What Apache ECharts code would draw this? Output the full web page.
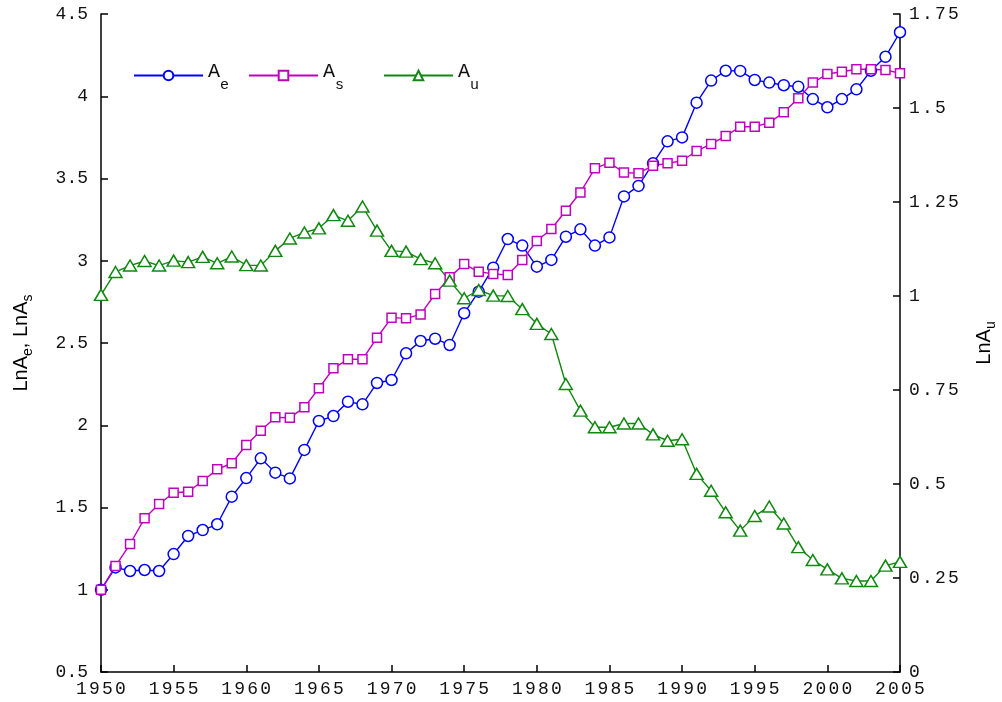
<!DOCTYPE html>
<html>
<head>
<meta charset="utf-8">
<script src="https://cdn.jsdelivr.net/npm/echarts@6/dist/echarts.min.js"></script>
<style>
html,body{margin:0;padding:0;background:#fff;}
#chart{width:1002px;height:702px;}
</style>
</head>
<body>
<div id="chart"></div>
<script>
const years = [1950,1951,1952,1953,1954,1955,1956,1957,1958,1959,1960,1961,1962,1963,1964,1965,1966,1967,1968,1969,1970,1971,1972,1973,1974,1975,1976,1977,1978,1979,1980,1981,1982,1983,1984,1985,1986,1987,1988,1989,1990,1991,1992,1993,1994,1995,1996,1997,1998,1999,2000,2001,2002,2003,2004,2005];

const lnAe = [1.00,1.136,1.114,1.120,1.114,1.217,1.327,1.363,1.398,1.566,1.679,1.799,1.712,1.677,1.850,2.026,2.056,2.143,2.127,2.257,2.275,2.437,2.512,2.526,2.488,2.681,2.812,2.958,3.132,3.092,2.964,3.005,3.146,3.191,3.092,3.142,3.391,3.455,3.592,3.726,3.750,3.961,4.095,4.155,4.154,4.099,4.083,4.067,4.058,3.983,3.933,3.983,4.042,4.155,4.240,4.389];

const lnAs = [1.00,1.144,1.278,1.434,1.521,1.590,1.596,1.661,1.732,1.769,1.880,1.967,2.048,2.046,2.109,2.225,2.346,2.401,2.401,2.532,2.654,2.650,2.674,2.798,2.899,2.980,2.933,2.920,2.913,3.005,3.120,3.193,3.304,3.415,3.562,3.596,3.536,3.532,3.578,3.592,3.608,3.667,3.710,3.758,3.815,3.815,3.839,3.902,3.988,4.083,4.135,4.149,4.164,4.164,4.160,4.140];

const lnAu = [1.003,1.064,1.081,1.093,1.081,1.094,1.090,1.104,1.087,1.105,1.082,1.081,1.120,1.153,1.169,1.180,1.215,1.200,1.238,1.174,1.120,1.118,1.098,1.087,1.041,0.994,1.016,1.001,1.000,0.965,0.926,0.899,0.766,0.695,0.651,0.651,0.661,0.661,0.632,0.615,0.619,0.527,0.482,0.425,0.376,0.415,0.440,0.395,0.332,0.298,0.273,0.249,0.242,0.242,0.283,0.293];

const seriesNames = ['Ae','As','Au'];
const legendSubs = {Ae:'e', As:'s', Au:'u'};
const leftAxisName = '{a|LnA}{s|e}{a|, LnA}{s|s}';
const rightAxisName = '{a|LnA}{s|u}';

const BLUE = '#0000ff', MAG = '#c000c0', GREEN = '#118811';
const MONO = "'Liberation Mono', 'DejaVu Sans Mono', monospace";
const SANS = "'Liberation Sans', Arial, sans-serif";

function spaced(v){ return String(v).split('').map(c => '{c|' + c + '}').join(''); }
function pairs(vals){ return years.map((y,i) => [y, vals[i]]); }

const chart = echarts.init(document.getElementById('chart'));

const legendRich = {
  a: {fontFamily: MONO, fontSize: 20, color: '#111', padding: [0,0,7,0]},
  s: {fontFamily: MONO, fontSize: 15, color: '#111', padding: [19,0,0,0]}
};
function mkLegend(name, left){
  return {
    data: [name], left: left, top: 62, orient: 'horizontal', padding: 0,
    itemWidth: 69, itemHeight: 12,
    formatter: n => '{a|A}{s|' + legendSubs[n] + '}',
    textStyle: {rich: legendRich}
  };
}

const axisLineStyle = {color: '#000', width: 1.5};

chart.setOption({
  backgroundColor: '#fff',
  animation: false,
  grid: {left: 101, right: 102, top: 14, bottom: 30, containLabel: false, outerBoundsMode: 'none'},
  legend: [mkLegend('Ae', 133), mkLegend('As', 248), mkLegend('Au', 383)],
  xAxis: {
    type: 'value', min: 1950, max: 2005, interval: 5,
    axisLine: {show: true, lineStyle: axisLineStyle},
    axisTick: {show: true, inside: true, length: 7, lineStyle: axisLineStyle},
    splitLine: {show: false},
    axisLabel: {
      margin: 8, formatter: v => spaced(v),
      rich: {c: {fontFamily: MONO, fontSize: 18, color: '#111', width: 13, align: 'center'}}
    }
  },
  yAxis: [{
    type: 'value', position: 'left', min: 0.5, max: 4.5, interval: 0.5,
    name: leftAxisName, nameLocation: 'middle', nameRotate: 90, nameGap: 66,
    nameTextStyle: {rich: {
      a: {fontFamily: SANS, fontSize: 20, color: '#000'},
      s: {fontFamily: SANS, fontSize: 14, color: '#000', padding: [14,0,0,0]}
    }},
    axisLine: {show: true, lineStyle: axisLineStyle},
    axisTick: {show: true, inside: true, length: 7, lineStyle: axisLineStyle},
    splitLine: {show: false},
    axisLabel: {margin: 13, fontFamily: MONO, fontSize: 18, color: '#111'}
  }, {
    type: 'value', position: 'right', min: 0, max: 1.75, interval: 0.25,
    name: rightAxisName, nameLocation: 'middle', nameRotate: 90, nameGap: 70,
    nameTextStyle: {rich: {
      a: {fontFamily: SANS, fontSize: 20, color: '#000'},
      s: {fontFamily: SANS, fontSize: 14, color: '#000', padding: [14,0,0,0]}
    }},
    axisLine: {show: true, lineStyle: axisLineStyle},
    axisTick: {show: true, inside: true, length: 7, lineStyle: axisLineStyle},
    splitLine: {show: false},
    axisLabel: {
      margin: 8, formatter: v => spaced(v),
      rich: {c: {fontFamily: MONO, fontSize: 18, color: '#111', width: 13, align: 'center'}}
    }
  }],
  series: [{
    name: 'Ae', type: 'line', yAxisIndex: 0, data: pairs(lnAe),
    symbol: 'circle', symbolSize: 11, showAllSymbol: true,
    lineStyle: {color: BLUE, width: 1.4},
    itemStyle: {color: '#fff', borderColor: BLUE, borderWidth: 1.5}
  }, {
    name: 'As', type: 'line', yAxisIndex: 0, data: pairs(lnAs),
    symbol: 'rect', symbolSize: 9, showAllSymbol: true,
    lineStyle: {color: MAG, width: 1.4},
    itemStyle: {color: '#fff', borderColor: MAG, borderWidth: 1.5}
  }, {
    name: 'Au', type: 'line', yAxisIndex: 1, data: pairs(lnAu),
    symbol: 'triangle', symbolSize: [13, 11], showAllSymbol: true,
    lineStyle: {color: GREEN, width: 1.4},
    itemStyle: {color: '#fff', borderColor: GREEN, borderWidth: 1.5}
  }]
});
</script>
</body>
</html>
